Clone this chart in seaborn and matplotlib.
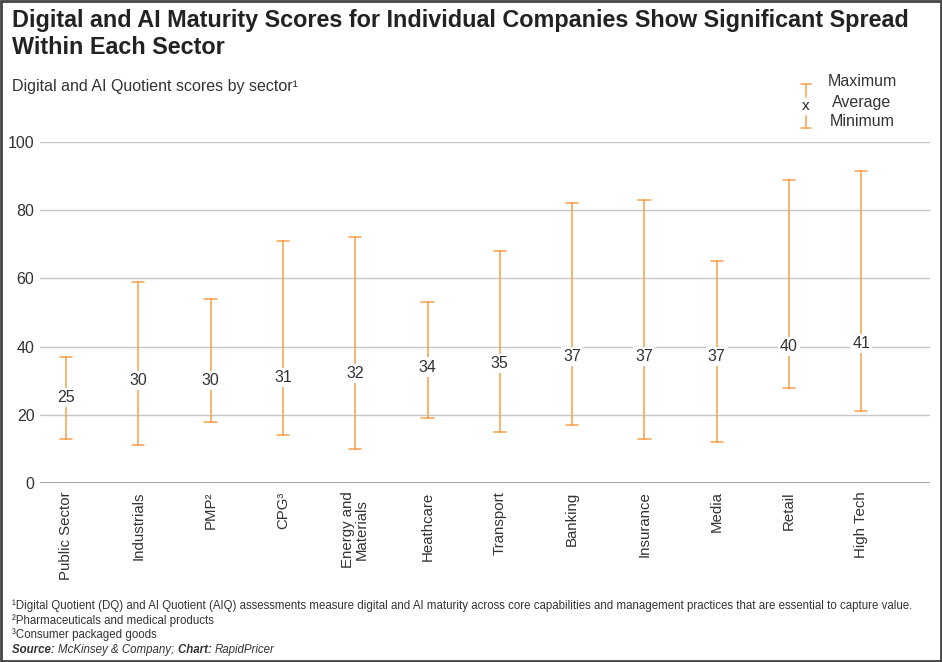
import numpy as np
import pandas as pd
import seaborn as sns
import matplotlib.pyplot as plt
from matplotlib.lines import Line2D
from matplotlib.patches import Rectangle

# Data
sectors = ["Public Sector", "Industrials", "PMP²", "CPG³", "Energy and\nMaterials",
           "Heathcare", "Transport", "Banking", "Insurance", "Media", "Retail", "High Tech"]
minimum = [13, 11, 18, 14, 10, 19, 15, 17, 13, 12, 28, 21]
average = [25, 30, 30, 31, 32, 34, 35, 37, 37, 37, 40, 41]
maximum = [37, 59, 54, 71, 72, 53, 68, 82, 83, 65, 89, 91.5]

df = pd.DataFrame({
    "sector": np.repeat(sectors, 3),
    "score": np.column_stack([minimum, average, maximum]).ravel(),
})

orange = "#F5A04C"
txt = "#333333"

sns.set_theme(style="white")
plt.rcParams["font.family"] = ["Liberation Sans", "DejaVu Sans"]

fig = plt.figure(figsize=(9.42, 6.62), dpi=100)
ax = fig.add_axes([40 / 942, 1 - 483 / 662, 890 / 942, (483 - 142) / 662])

# median of (min, avg, max) is the average; the interval spans min..max
sns.pointplot(data=df, x="sector", y="score", order=sectors, estimator="median",
              errorbar=lambda v: (v.min(), v.max()), capsize=0.17,
              linestyle="none", marker="", color=orange,
              err_kws={"linewidth": 1.1}, ax=ax)

for i, a in enumerate(average):
    ax.text(i, a, str(a), ha="center", va="center", fontsize=11.5, color=txt,
            bbox=dict(facecolor="white", edgecolor="none", pad=1.5), zorder=5)

ax.set_ylim(0, 100)
ax.set_xlim(-0.36, 11.95)
ax.set_yticks([0, 20, 40, 60, 80, 100])
ax.yaxis.grid(True, color="#c6c6c6", linewidth=1)
ax.axhline(0, color="#9a9a9a", linewidth=1.3, zorder=1)
ax.set_axisbelow(True)
for s in ax.spines.values():
    s.set_visible(False)
ax.tick_params(axis="y", labelsize=11.5, labelcolor=txt, length=0, pad=4)
ax.tick_params(axis="x", labelsize=10.8, labelcolor=txt, length=0, pad=6)
plt.setp(ax.get_xticklabels(), rotation=90, va="top", ha="center", linespacing=1.0)
ax.set_xlabel("")
ax.set_ylabel("")

def fy(p):
    return 1 - p / 662

# Titles
fig.text(12 / 942, fy(20), "Digital and AI Maturity Scores for Individual Companies Show Significant Spread",
         fontsize=16.8, fontweight="bold", color="#222222", va="center")
fig.text(12 / 942, fy(48), "Within Each Sector",
         fontsize=16.8, fontweight="bold", color="#222222", va="center")
fig.text(12 / 942, fy(87), "Digital and AI Quotient scores by sector¹",
         fontsize=11.5, color=txt, va="center")

# Legend
lx = 806 / 942
cw = 5 / 942
fig.add_artist(Line2D([lx - cw, lx + cw], [fy(84), fy(84)], color=orange, lw=1.1))
fig.add_artist(Line2D([lx, lx], [fy(84), fy(97)], color=orange, lw=1.1))
fig.add_artist(Line2D([lx, lx], [fy(116), fy(128)], color=orange, lw=1.1))
fig.add_artist(Line2D([lx - cw, lx + cw], [fy(128), fy(128)], color=orange, lw=1.1))
fig.text(lx, fy(106), "x", ha="center", va="center", fontsize=11, color="#222222")
for label, yy in [("Maximum", 82), ("Average", 102), ("Minimum", 122)]:
    fig.text(862 / 942, fy(yy), label, ha="center", va="center", fontsize=11.5, color=txt)

# Footnotes
fn = 8.3
notes = [
    "¹Digital Quotient (DQ) and AI Quotient (AIQ) assessments measure digital and AI maturity across core capabilities and management practices that are essential to capture value.",
    "²Pharmaceuticals and medical products",
    "³Consumer packaged goods",
]
for n, yy in zip(notes, [606, 621, 635]):
    fig.text(12 / 942, fy(yy), n, fontsize=fn, color=txt, va="center")

# source line: pieces chained one after another
src = [("Source: ", "bold"), ("McKinsey & Company; ", "normal"), ("Chart: ", "bold"), ("RapidPricer", "normal")]
prev = fig.text(12 / 942, fy(650), src[0][0], fontsize=fn, color=txt, va="center",
                fontweight=src[0][1], fontstyle="italic")
for piece, weight in src[1:]:
    prev = ax.annotate(piece, xy=(1, 0.5), xycoords=prev, va="center", ha="left",
                       fontsize=fn, color=txt, fontweight=weight, fontstyle="italic",
                       annotation_clip=False)

fig.add_artist(Rectangle((0.001, 0.001), 0.998, 0.998, transform=fig.transFigure,
                         fill=False, edgecolor="#444444", linewidth=2))

fig.savefig("out.png", dpi=100)
